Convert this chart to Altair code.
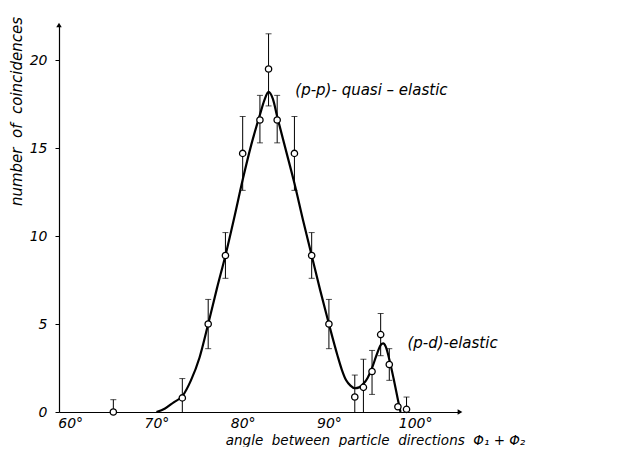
import altair as alt
import pandas as pd

# measured points (angle in degrees, number of coincidences)
angles = [65, 73, 76, 78, 80, 82, 83, 84, 86, 88, 90, 93, 94, 95, 96, 97, 98, 99]
counts = [0, 0.8, 5.0, 8.9, 14.7, 16.6, 19.5, 16.6, 14.7, 8.9, 5.0, 0.85, 1.4, 2.3, 4.4, 2.7, 0.3, 0.15]
err_lo = [0, 0, 3.6, 7.6, 12.6, 15.3, 17.4, 15.3, 12.6, 7.6, 3.6, 0, 0, 1.0, 3.2, 1.8, 0.3, 0]
err_hi = [0.7, 1.9, 6.4, 10.2, 16.8, 18.0, 21.5, 18.0, 16.8, 10.2, 6.4, 2.1, 3.0, 3.5, 5.6, 3.6, 0.3, 0.85]

# fitted curve
curve_x = [70, 71, 72, 73, 74, 75, 76, 77, 78, 79, 80, 81, 82, 82.5, 83, 83.5, 84, 85, 86, 87, 88, 89, 90,
           91, 91.5, 92, 92.5, 93, 93.5, 94, 94.5, 95, 95.5, 96, 96.3, 96.6, 97, 97.5, 98, 98.3]
curve_y = [0, 0.2, 0.55, 0.9, 1.8, 3.1, 5.0, 7.0, 8.9, 11.0, 13.2, 15.2, 16.9, 17.7, 18.2, 17.8, 16.8, 14.9, 13.0,
           10.9, 8.9, 6.9, 5.0, 3.2, 2.4, 1.8, 1.5, 1.35, 1.4, 1.6, 1.95, 2.5, 3.2, 3.8, 3.9, 3.7, 3.0, 1.9, 0.7, 0]

x_ticks = [60, 70, 80, 90, 100]
y_ticks = [0, 5, 10, 15, 20]
x_dom = [58.7, 105.2]
y_dom = [0, 22]

ann_text = ["(p-p)- quasi – elastic", "(p-d)-elastic"]
ann_x = [86.1, 99.1]
ann_y = [18.3, 3.9]

FONT = "DejaVu Sans"
NB = "\u00a0"

pts = pd.DataFrame({"angle": angles, "count": counts, "lo": err_lo, "hi": err_hi})
cur = pd.DataFrame({"angle": curve_x, "count": curve_y})
ann = pd.DataFrame({"angle": ann_x, "count": ann_y, "text": ann_text})
arrows = pd.DataFrame({"angle": [x_dom[1], x_dom[0]], "count": [y_dom[0], y_dom[1]],
                       "shape": ["triangle-right", "triangle-up"]})

xscale = alt.Scale(domain=x_dom, nice=False, zero=False)
yscale = alt.Scale(domain=y_dom, nice=False, zero=False)

xaxis = alt.Axis(values=x_ticks, labelExpr="datum.value + '°'", grid=False, ticks=False,
                 labelPadding=4, labelFont=FONT, labelFontStyle="italic", labelFontSize=14,
                 labelColor="black", domainColor="black", domainWidth=1.2,
                 title=f"angle{NB}{NB}between{NB}{NB}particle{NB}{NB}directions{NB}{NB}Φ₁ + Φ₂",
                 titleFont=FONT, titleFontStyle="italic", titleFontWeight="normal", titleFontSize=13.5,
                 titleColor="black", titleX=316, titleY=28, titleAlign="center", titleBaseline="middle")
yaxis = alt.Axis(values=y_ticks, grid=False, tickSize=4, tickColor="black", labelPadding=8,
                 labelFont=FONT, labelFontStyle="italic", labelFontSize=14, labelColor="black",
                 domainColor="black", domainWidth=1.2,
                 title=f"number{NB}{NB}of{NB}{NB}coincidences", titleFont=FONT, titleFontStyle="italic",
                 titleFontWeight="normal", titleFontSize=15, titleColor="black",
                 titleAngle=270, titleX=-43, titleY=86, titleAlign="center", titleBaseline="middle")

base_x = alt.X("angle:Q", scale=xscale, axis=xaxis)
base_y = alt.Y("count:Q", scale=yscale, axis=yaxis)

curve = alt.Chart(cur).mark_line(color="black", strokeWidth=2.2, interpolate="monotone").encode(
    x=base_x, y=base_y)

bars = alt.Chart(pts).mark_rule(color="black", strokeWidth=1).encode(
    x="angle:Q", y="lo:Q", y2="hi:Q")

top_caps = alt.Chart(pts).transform_filter("datum.hi > datum.count").mark_tick(
    orient="horizontal", size=6, thickness=1, color="black").encode(x="angle:Q", y="hi:Q")
bot_caps = alt.Chart(pts).transform_filter("datum.lo > 0 && datum.lo < datum.count").mark_tick(
    orient="horizontal", size=6, thickness=1, color="black").encode(x="angle:Q", y="lo:Q")

points = alt.Chart(pts).mark_point(shape="circle", filled=True, fill="white", stroke="black",
                                   strokeWidth=1.3, size=40, opacity=1).encode(x="angle:Q", y="count:Q")

labels = alt.Chart(ann).mark_text(font=FONT, fontStyle="italic", fontSize=15, align="left",
                                  baseline="middle", color="black").encode(
    x="angle:Q", y="count:Q", text="text:N")

arrow_marks = alt.Chart(arrows).mark_point(filled=True, color="black", size=30, opacity=1).encode(
    x="angle:Q", y="count:Q", shape=alt.Shape("shape:N", scale=None, legend=None))

chart = alt.layer(curve, bars, top_caps, bot_caps, points, labels, arrow_marks).properties(
    width=401, height=387,
    autosize=alt.AutoSizeParams(type="none"),
    padding={"left": 51, "top": 17, "right": 155, "bottom": 35},
    background="white",
).configure_view(stroke=None)

chart.save("out.html", embed_options={"renderer": "svg", "actions": False})
